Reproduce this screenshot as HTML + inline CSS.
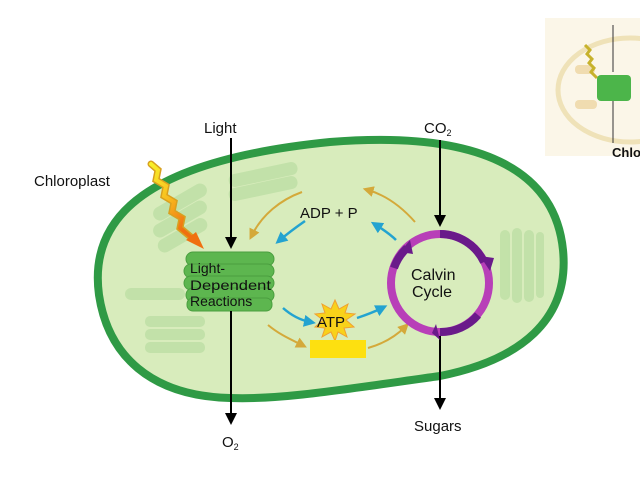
<!DOCTYPE html>
<html><head><meta charset="utf-8"><style>
html,body{margin:0;padding:0;background:#fff;width:640px;height:480px;overflow:hidden}
svg{display:block}
text{font-family:"Liberation Sans",sans-serif;fill:#111}
</style></head><body>
<svg width="640" height="480" viewBox="0 0 640 480" xmlns="http://www.w3.org/2000/svg">
<defs>
<marker id="ab" viewBox="0 0 10 10" markerWidth="12" markerHeight="12" refX="5" refY="5" orient="auto" markerUnits="userSpaceOnUse"><path d="M0,0 L10,5 L0,10z" fill="#000"/></marker>
<marker id="ao" viewBox="0 0 10 10" markerWidth="11" markerHeight="11" refX="5" refY="5" orient="auto" markerUnits="userSpaceOnUse"><path d="M0,0 L10,5 L0,10z" fill="#d4a93a"/></marker>
<marker id="ac" viewBox="0 0 10 10" markerWidth="12" markerHeight="12" refX="5" refY="5" orient="auto" markerUnits="userSpaceOnUse"><path d="M0,0 L10,5 L0,10z" fill="#23a3d0"/></marker>
<linearGradient id="zz" x1="0" y1="0" x2="0.6" y2="1"><stop offset="0" stop-color="#f8f02a"/><stop offset="0.5" stop-color="#f8c020"/><stop offset="1" stop-color="#f07010"/></linearGradient>
</defs>
<!-- inset -->
<rect x="545" y="18" width="95" height="138" fill="#fbf6e8"/>
<ellipse cx="630" cy="90" rx="72" ry="52" fill="none" stroke="#efe2b8" stroke-width="5"/>
<rect x="575" y="65" width="20" height="9" rx="4" fill="#f0dcb0"/>
<rect x="575" y="100" width="22" height="9" rx="4" fill="#f0dcb0"/>
<line x1="613" y1="25" x2="613" y2="72" stroke="#333" stroke-width="1"/>
<line x1="613" y1="100" x2="613" y2="143" stroke="#333" stroke-width="1"/>
<path d="M585,45 l5,5 -3,4 5,5 -3,4 5,5 -3,4 6,6" fill="none" stroke="#c7b22c" stroke-width="3"/>
<rect x="597" y="75" width="34" height="26" rx="4" fill="#4cb54a"/>
<text x="612" y="157" font-size="13" font-weight="bold">Chlo</text>
<!-- chloroplast -->
<path d="M99,295 C88,215 150,160 330,142 C480,130 555,170 563,250 C570,320 520,360 440,376 C340,390 280,400 230,398 C150,396 108,355 99,295z" fill="#d8ecbc" stroke="#2f9a45" stroke-width="8"/>
<!-- faint thylakoids -->
<g fill="#bfe0a6" opacity="0.85">
<rect x="150" y="195" width="60" height="14" rx="7" transform="rotate(-30 180 202)"/>
<rect x="150" y="212" width="60" height="14" rx="7" transform="rotate(-30 180 219)"/>
<rect x="155" y="228" width="55" height="14" rx="7" transform="rotate(-30 183 235)"/>
<rect x="228" y="168" width="70" height="13" rx="6" transform="rotate(-12 263 174)"/>
<rect x="228" y="182" width="70" height="13" rx="6" transform="rotate(-12 263 188)"/>
<rect x="125" y="288" width="60" height="12" rx="6"/>
<rect x="145" y="316" width="60" height="11" rx="5"/>
<rect x="145" y="329" width="60" height="11" rx="5"/>
<rect x="145" y="342" width="60" height="11" rx="5"/>
<rect x="500" y="230" width="10" height="70" rx="5"/>
<rect x="512" y="228" width="10" height="75" rx="5"/>
<rect x="524" y="230" width="10" height="72" rx="5"/>
<rect x="536" y="232" width="8" height="66" rx="4"/>
</g>
<!-- light-dependent -->
<g fill="#5db64f" stroke="#4a9e3f" stroke-width="1">
<rect x="186" y="252" width="88" height="14" rx="7"/>
<rect x="184" y="264" width="90" height="14" rx="7"/>
<rect x="184" y="276" width="90" height="14" rx="7"/>
<rect x="186" y="288" width="88" height="14" rx="7"/>
<rect x="187" y="298" width="85" height="13" rx="6"/>
</g>
<text x="190" y="273" font-size="14">Light-</text>
<text x="190" y="290" font-size="14" textLength="81" lengthAdjust="spacingAndGlyphs">Dependent</text>
<text x="190" y="306" font-size="14">Reactions</text>
<!-- zigzag light -->
<path d="M151,164 L158,170 L156,180 L166,186 L164,196 L174,202 L172,212 L182,218 L180,228 L192,238" fill="none" stroke="#d8a020" stroke-width="7" stroke-linejoin="miter" stroke-linecap="round"/>
<path d="M151,164 L158,170 L156,180 L166,186 L164,196 L174,202 L172,212 L182,218 L180,228 L192,238" fill="none" stroke="url(#zz)" stroke-width="4" stroke-linecap="round"/>
<path d="M186,240 L204,249 L196,232z" fill="#f07010"/>
<!-- black arrows -->
<line x1="231" y1="138" x2="231" y2="243" stroke="#000" stroke-width="2" marker-end="url(#ab)"/>
<line x1="231" y1="311" x2="231" y2="419" stroke="#000" stroke-width="2" marker-end="url(#ab)"/>
<line x1="440" y1="140" x2="440" y2="221" stroke="#000" stroke-width="2" marker-end="url(#ab)"/>
<line x1="440" y1="333" x2="440" y2="404" stroke="#000" stroke-width="2" marker-end="url(#ab)"/>
<text x="204" y="133" font-size="15">Light</text>
<text x="424" y="133" font-size="15">CO<tspan font-size="9" dy="3">2</tspan></text>
<text x="34" y="186" font-size="15">Chloroplast</text>
<text x="222" y="447" font-size="15">O<tspan font-size="9" dy="3">2</tspan></text>
<text x="414" y="431" font-size="15">Sugars</text>
<!-- orange arrows -->
<path d="M302,192 C280,200 262,215 252,235" fill="none" stroke="#d4a93a" stroke-width="2" marker-end="url(#ao)"/>
<path d="M415,222 C400,205 385,195 368,190" fill="none" stroke="#d4a93a" stroke-width="2" marker-end="url(#ao)"/>
<path d="M268,325 C280,335 292,340 302,345" fill="none" stroke="#d4a93a" stroke-width="2" marker-end="url(#ao)"/>
<path d="M368,348 C382,344 395,337 405,327" fill="none" stroke="#d4a93a" stroke-width="2" marker-end="url(#ao)"/>
<!-- blue arrows -->
<path d="M305,221 C295,228 287,234 280,240" fill="none" stroke="#23a3d0" stroke-width="2.5" marker-end="url(#ac)"/>
<path d="M396,240 C390,234 384,230 376,225" fill="none" stroke="#23a3d0" stroke-width="2.5" marker-end="url(#ac)"/>
<path d="M283,308 C292,316 300,320 310,322" fill="none" stroke="#23a3d0" stroke-width="2.5" marker-end="url(#ac)"/>
<path d="M357,318 C366,315 374,312 382,308" fill="none" stroke="#23a3d0" stroke-width="2.5" marker-end="url(#ac)"/>
<text x="300" y="218" font-size="15">ADP + P</text>
<!-- ATP star -->
<polygon points="335,300 339,309 348,304 345,313 355,314 346,320 354,327 344,328 347,337 338,332 335,341 331,332 322,337 325,328 315,327 323,320 315,314 325,313 322,304 331,309" fill="#f8d21a" stroke="#f0a030" stroke-width="1"/>
<text x="317" y="327" font-size="15">ATP</text>
<rect x="310" y="340" width="56" height="18" fill="#fde010"/>
<!-- Calvin cycle -->
<circle cx="440" cy="283" r="49" fill="none" stroke="#b83fb8" stroke-width="8"/>
<path d="M440,234 A49,49 0 0 1 484,262" fill="none" stroke="#6a1a8a" stroke-width="8"/>
<path d="M480,256 l14,2 -4,13z" fill="#6a1a8a"/>
<path d="M440,332 A49,49 0 0 0 478,315" fill="none" stroke="#6a1a8a" stroke-width="8"/>
<path d="M436,324 l-4,9 8,7z" fill="#6a1a8a"/>
<path d="M394,268 A49,49 0 0 1 407,248" fill="none" stroke="#6a1a8a" stroke-width="8"/>
<path d="M400,252 l10,-12 3,14z" fill="#6a1a8a"/>
<text x="411" y="280" font-size="16">Calvin</text>
<text x="412" y="297" font-size="16">Cycle</text>
</svg>
</body></html>
